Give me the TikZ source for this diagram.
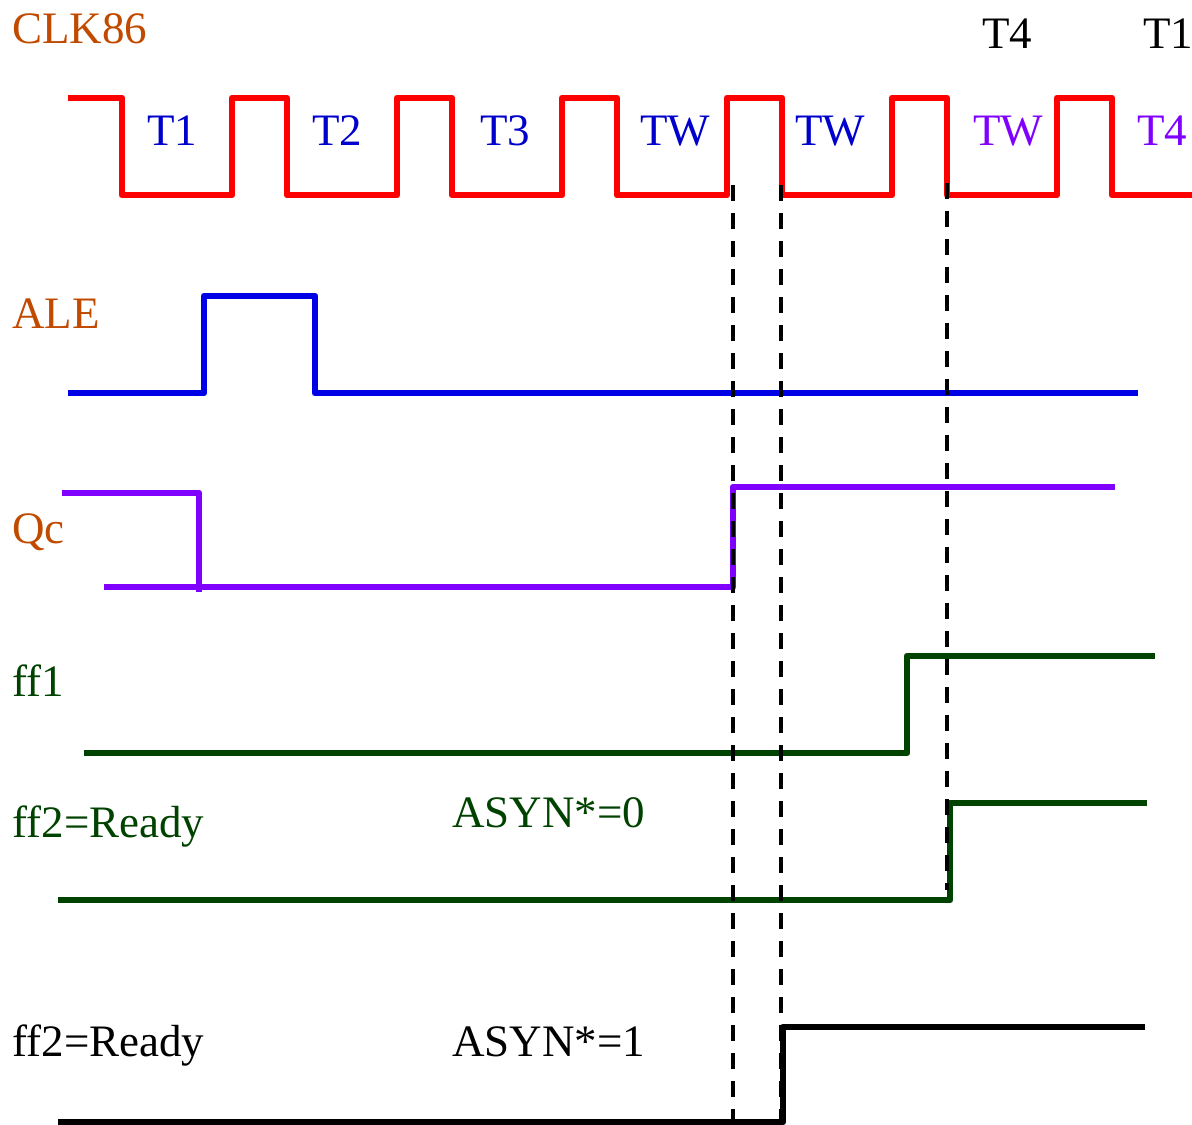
\documentclass[tikz,border=0pt]{standalone}
\usepackage{fontspec}
\setmainfont{Liberation Serif}
\usetikzlibrary{positioning}
\definecolor{clkred}{RGB}{255,0,0}
\definecolor{stateblue}{RGB}{0,0,204}
\definecolor{aleblue}{RGB}{0,0,230}
\definecolor{qcviolet}{RGB}{128,0,255}
\definecolor{namebrown}{RGB}{192,74,0}
\definecolor{ffgreen}{RGB}{0,66,0}

\begin{document}
\begin{tikzpicture}[x=0.5pt,y=-0.5pt,
wave/.style={line width=3.4pt,line join=round},
guide/.style={line width=1.9pt,dash pattern=on 8pt off 6pt},
sig label/.style={anchor=base west,inner sep=0pt,font=\fontsize{22.5}{27}\selectfont}]
\useasboundingbox (0,0) rectangle (1192,1124);
% signal names
\node[sig label,namebrown] (clkname) at (12,43) {CLK86};
\node[sig label,namebrown] (alename) at (12,328) {ALE};
\node[sig label,namebrown] (qcname) at (12,543) {Qc};
\node[sig label,ffgreen] (ffaname) at (12,696) {ff1};
\node[sig label,ffgreen] (ffbname) at (12,837) {ff2=Ready};
\node[sig label,ffgreen] (asynzero) at (452,827) {ASYN*=0};
\node[sig label] (ffcname) at (12,1056) {ff2=Ready};
\node[sig label] (asynone) at (452,1056) {ASYN*=1};
% states above and inside the clock
\node[sig label] (topfour) at (982,48) {T4};
\node[sig label] (topone) at (1143,48) {T1};
\foreach \x/\s [count=\i] in {147/T1,312/T2,480/T3,640/TW,795/TW}
  \node[sig label,stateblue] (st\i) at (\x,145) {\s};
\node[sig label,qcviolet] (st6) at (973,145) {TW};
\node[sig label,qcviolet] (st7) at (1137,145) {T4};
% clock
\draw[wave,clkred] (68,98) -| (122,195)
  foreach \k in {0,...,5} { -| (232+165*\k,98) -| (287+165*\k,195) } -- (1192,195);
% ALE
\draw[wave,aleblue] (68,393) -| (204,296) -| (315,393) -- (1138,393);
% Qc
\draw[wave,qcviolet] (62,493) -| (199,592);
\draw[wave,qcviolet] (104,587) -| (733,487) -- (1115,487);
% ff1 and ff2
\draw[wave,ffgreen] (84,753) -| (907,656) -- (1155,656);
\draw[wave,ffgreen] (58,900) -| (950,803) -- (1147,803);
\draw[wave] (58,1122) -| (783,1027) -- (1145,1027);
% guide lines
\draw[guide] (733,185) -- (733,1124);
\draw[guide] (781,185) -- (781,1124);
\draw[guide] (947,183) -- (947,890);
\end{tikzpicture}
\end{document}
